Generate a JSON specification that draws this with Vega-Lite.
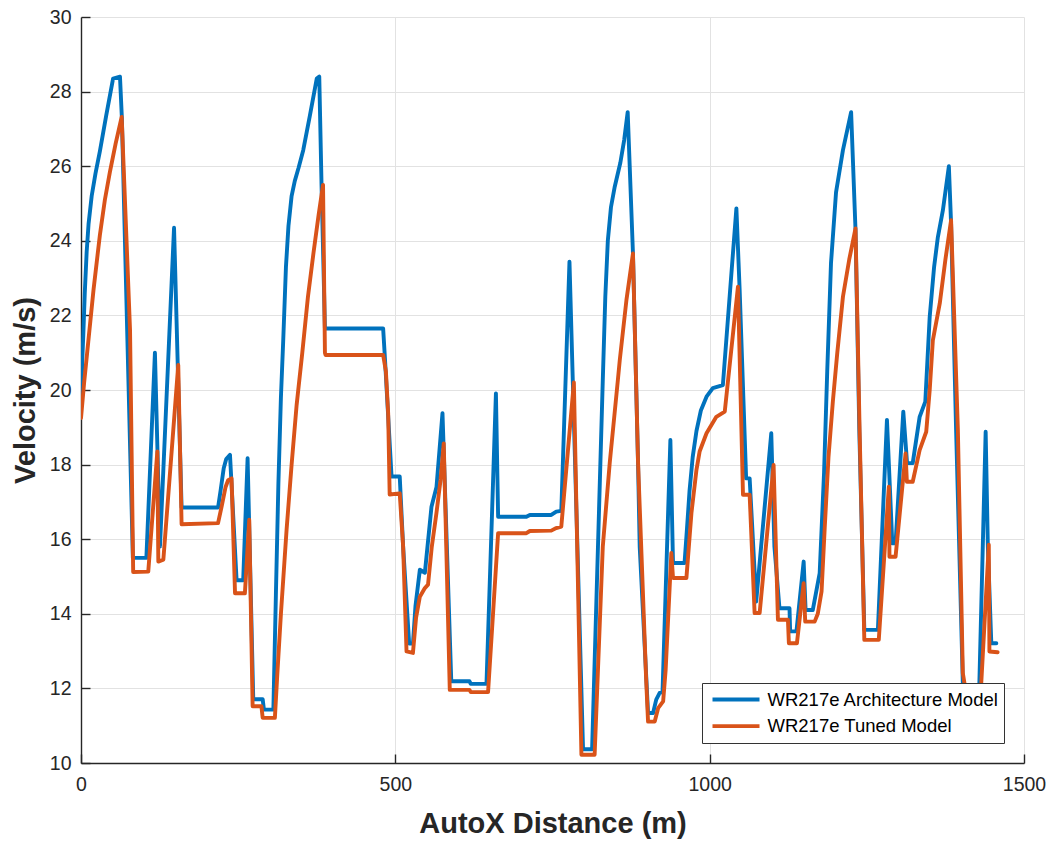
{
  "$schema": "https://vega.github.io/schema/vega-lite/v6.json",
  "width": 943,
  "height": 746,
  "autosize": {"type": "none"},
  "padding": {"left": 81, "top": 17, "right": 26, "bottom": 79},
  "background": "white",
  "config": {
    "view": {"stroke": null},
    "font": "Liberation Sans",
    "axis": {
      "labelFont": "Liberation Sans",
      "labelFontSize": 19.5,
      "labelColor": "#262626",
      "labelFlush": false,
      "titleFont": "Liberation Sans",
      "titleFontSize": 29,
      "titleFontWeight": "bold",
      "titleColor": "#262626",
      "domainColor": "#262626",
      "domainWidth": 1.4,
      "tickColor": "#262626",
      "tickWidth": 1.4,
      "tickSize": -9,
      "grid": true,
      "gridColor": "#e2e2e2",
      "gridWidth": 1
    },
    "legend": {
      "labelFont": "Liberation Sans",
      "labelFontSize": 18.5,
      "labelColor": "#000000",
      "labelLimit": 400
    }
  },
  "datasets": {
    "arch": [
      {"d":0,"v":19.5},{"d":2,"v":20.8},{"d":3.7,"v":21.5},{"d":6,"v":22.6},{"d":9,"v":23.7},{"d":12,"v":24.45},{"d":17,"v":25.2},{"d":23,"v":25.8},{"d":30,"v":26.4},{"d":40,"v":27.35},{"d":51,"v":28.35},{"d":62,"v":28.4},{"d":65,"v":27.3},{"d":82.5,"v":15.5},{"d":104,"v":15.5},{"d":117.6,"v":21.0},{"d":125.6,"v":15.8},{"d":148,"v":24.35},{"d":160,"v":16.85},{"d":218,"v":16.85},{"d":222,"v":17.3},{"d":227,"v":17.9},{"d":231,"v":18.15},{"d":237,"v":18.26},{"d":247.5,"v":14.9},{"d":258,"v":14.9},{"d":265,"v":18.17},{"d":274,"v":11.71},{"d":289,"v":11.71},{"d":291,"v":11.43},{"d":306,"v":11.43},{"d":310,"v":14.5},{"d":314,"v":17.5},{"d":318,"v":19.8},{"d":321.6,"v":21.3},{"d":326,"v":23.3},{"d":330,"v":24.4},{"d":335,"v":25.2},{"d":340,"v":25.6},{"d":346,"v":25.95},{"d":353.5,"v":26.43},{"d":364,"v":27.35},{"d":375,"v":28.35},{"d":379,"v":28.4},{"d":382.6,"v":25.5},{"d":388,"v":21.65},{"d":480.6,"v":21.65},{"d":483,"v":20.98},{"d":494,"v":17.68},{"d":507,"v":17.68},{"d":512.4,"v":15.8},{"d":522,"v":13.2},{"d":528,"v":13.2},{"d":532,"v":14.2},{"d":539,"v":15.18},{"d":547,"v":15.1},{"d":557.5,"v":16.87},{"d":565.5,"v":17.4},{"d":575,"v":19.38},{"d":589,"v":12.19},{"d":618,"v":12.19},{"d":620,"v":12.12},{"d":645,"v":12.12},{"d":660,"v":19.91},{"d":663.5,"v":16.6},{"d":708.5,"v":16.6},{"d":714,"v":16.65},{"d":748,"v":16.65},{"d":756,"v":16.74},{"d":764,"v":16.76},{"d":777,"v":23.44},{"d":798.6,"v":10.37},{"d":813,"v":10.37},{"d":830,"v":20.27},{"d":834,"v":22.5},{"d":838,"v":24.0},{"d":843,"v":24.9},{"d":849,"v":25.45},{"d":858,"v":26.1},{"d":864,"v":26.7},{"d":869.6,"v":27.45},{"d":878,"v":23.66},{"d":886,"v":18.1},{"d":888.7,"v":15.8},{"d":902,"v":11.34},{"d":910,"v":11.34},{"d":915,"v":11.7},{"d":920.5,"v":11.88},{"d":925,"v":11.9},{"d":937.5,"v":18.66},{"d":941.7,"v":15.36},{"d":960,"v":15.36},{"d":964,"v":16.3},{"d":968,"v":17.3},{"d":973,"v":18.2},{"d":979,"v":18.9},{"d":986,"v":19.45},{"d":995,"v":19.82},{"d":1005,"v":20.05},{"d":1021,"v":20.13},{"d":1042.5,"v":24.87},{"d":1047.7,"v":22.68},{"d":1058,"v":17.63},{"d":1063.6,"v":17.63},{"d":1074,"v":14.33},{"d":1098,"v":18.84},{"d":1103,"v":15.8},{"d":1111,"v":14.15},{"d":1127,"v":14.15},{"d":1128,"v":13.53},{"d":1138,"v":13.53},{"d":1149.5,"v":15.4},{"d":1152.6,"v":14.1},{"d":1164,"v":14.1},{"d":1175,"v":15.09},{"d":1182,"v":17.8},{"d":1187,"v":20.5},{"d":1193,"v":23.4},{"d":1201,"v":25.3},{"d":1212,"v":26.43},{"d":1225,"v":27.45},{"d":1232,"v":24.29},{"d":1238,"v":18.93},{"d":1246,"v":13.57},{"d":1267.6,"v":13.57},{"d":1282,"v":19.2},{"d":1290.5,"v":15.89},{"d":1295.7,"v":15.89},{"d":1308,"v":19.42},{"d":1314,"v":18.04},{"d":1323,"v":18.04},{"d":1334,"v":19.28},{"d":1343,"v":19.69},{"d":1350,"v":21.96},{"d":1357,"v":23.3},{"d":1363,"v":24.1},{"d":1371,"v":24.82},{"d":1380.5,"v":26.0},{"d":1384,"v":24.46},{"d":1392,"v":18.93},{"d":1402.7,"v":12.14},{"d":1416,"v":10.9},{"d":1429,"v":12.14},{"d":1439,"v":18.88},{"d":1442.5,"v":15.8},{"d":1448,"v":13.21},{"d":1456,"v":13.21}
    ],
    "tuned": [
      {"d":0,"v":19.25},{"d":5,"v":20.2},{"d":11.6,"v":21.3},{"d":20,"v":22.7},{"d":30,"v":24.15},{"d":38,"v":25.1},{"d":46,"v":25.85},{"d":55,"v":26.6},{"d":64.7,"v":27.32},{"d":78,"v":21.6},{"d":83,"v":15.12},{"d":107,"v":15.13},{"d":121.4,"v":18.35},{"d":123,"v":15.4},{"d":131,"v":15.45},{"d":154.7,"v":20.67},{"d":160,"v":16.4},{"d":218,"v":16.43},{"d":224,"v":16.9},{"d":230,"v":17.4},{"d":234,"v":17.58},{"d":239.5,"v":17.63},{"d":245,"v":14.55},{"d":260.7,"v":14.55},{"d":267.6,"v":16.52},{"d":273,"v":11.52},{"d":287,"v":11.52},{"d":289,"v":11.21},{"d":308.4,"v":11.21},{"d":312,"v":12.3},{"d":318,"v":14.0},{"d":327,"v":16.25},{"d":335,"v":18.0},{"d":343,"v":19.6},{"d":352,"v":21.0},{"d":361,"v":22.5},{"d":370,"v":23.7},{"d":378,"v":24.7},{"d":385,"v":25.5},{"d":388,"v":21.0},{"d":389,"v":20.94},{"d":480.6,"v":20.94},{"d":485,"v":20.5},{"d":488.6,"v":19.37},{"d":491,"v":17.2},{"d":507,"v":17.23},{"d":512.4,"v":15.8},{"d":517.8,"v":12.99},{"d":528,"v":12.95},{"d":533,"v":13.9},{"d":539,"v":14.46},{"d":547,"v":14.69},{"d":552,"v":14.78},{"d":558,"v":15.8},{"d":565.4,"v":16.7},{"d":572,"v":17.6},{"d":577,"v":18.57},{"d":586.6,"v":11.96},{"d":618,"v":11.96},{"d":620,"v":11.9},{"d":647.5,"v":11.9},{"d":663.5,"v":16.16},{"d":708.5,"v":16.16},{"d":714,"v":16.22},{"d":748,"v":16.23},{"d":756,"v":16.3},{"d":764,"v":16.34},{"d":784,"v":20.2},{"d":796,"v":10.22},{"d":817,"v":10.22},{"d":830,"v":15.8},{"d":841,"v":18.04},{"d":854,"v":20.27},{"d":857,"v":20.8},{"d":867.6,"v":22.41},{"d":878,"v":23.66},{"d":886,"v":18.1},{"d":899,"v":12.23},{"d":902,"v":11.11},{"d":912.6,"v":11.11},{"d":918,"v":11.47},{"d":926,"v":11.65},{"d":930,"v":12.5},{"d":939,"v":15.63},{"d":941.7,"v":14.96},{"d":963,"v":14.96},{"d":971,"v":16.7},{"d":979,"v":17.86},{"d":984,"v":18.35},{"d":995,"v":18.84},{"d":1010.6,"v":19.28},{"d":1024,"v":19.42},{"d":1045,"v":22.77},{"d":1053,"v":17.19},{"d":1063.6,"v":17.19},{"d":1071.5,"v":14.02},{"d":1079.5,"v":14.02},{"d":1101.7,"v":17.99},{"d":1108.6,"v":13.84},{"d":1124.5,"v":13.84},{"d":1126,"v":13.21},{"d":1138.8,"v":13.21},{"d":1149.5,"v":14.82},{"d":1152,"v":13.79},{"d":1167,"v":13.79},{"d":1172,"v":14.0},{"d":1178,"v":14.6},{"d":1183,"v":16.3},{"d":1189,"v":18.2},{"d":1196,"v":19.7},{"d":1203,"v":21.0},{"d":1212,"v":22.5},{"d":1222,"v":23.5},{"d":1232,"v":24.33},{"d":1238.5,"v":18.93},{"d":1246,"v":13.3},{"d":1269,"v":13.3},{"d":1285,"v":17.41},{"d":1286,"v":15.53},{"d":1295.7,"v":15.53},{"d":1311.6,"v":18.3},{"d":1313.7,"v":17.54},{"d":1323,"v":17.54},{"d":1334,"v":18.39},{"d":1344.5,"v":18.88},{"d":1350,"v":20.0},{"d":1355,"v":21.33},{"d":1366,"v":22.32},{"d":1375,"v":23.5},{"d":1384,"v":24.55},{"d":1394.8,"v":18.93},{"d":1402.7,"v":12.41},{"d":1418,"v":10.8},{"d":1432,"v":12.14},{"d":1444,"v":15.85},{"d":1445,"v":12.99},{"d":1458,"v":12.97}
    ]
  },
  "encoding": {
    "x": {
      "field": "d", "type": "quantitative",
      "scale": {"domain": [0, 1500], "nice": false, "zero": false},
      "axis": {"values": [0, 500, 1000, 1500], "format": "d", "title": "AutoX Distance (m)", "labelPadding": 21, "titleBaseline": "alphabetic", "titleY": 69}
    },
    "y": {
      "field": "v", "type": "quantitative",
      "scale": {"domain": [10, 30], "nice": false, "zero": false},
      "axis": {"values": [10, 12, 14, 16, 18, 20, 22, 24, 26, 28, 30], "format": "d", "title": "Velocity (m/s)", "labelPadding": 19, "titleBaseline": "alphabetic", "titleX": -47}
    }
  },
  "layer": [
    {
      "data": {"name": "arch"},
      "mark": {"type": "line", "strokeWidth": 3.9, "strokeJoin": "round", "strokeCap": "round", "clip": true},
      "encoding": {
        "color": {
          "datum": "WR217e Architecture Model",
          "type": "nominal",
          "scale": {"domain": ["WR217e Architecture Model", "WR217e Tuned Model"], "range": ["#0072BD", "#D95319"]},
          "legend": {
            "title": null,
            "orient": "bottom-right",
            "offset": 20,
            "symbolType": "stroke",
            "symbolSize": 2209,
            "symbolStrokeWidth": 3.9,
            "clipHeight": 24,
            "rowPadding": 2.6,
            "padding": 4.5,
            "symbolOffset": 4,
            "labelOffset": 6,
            "strokeColor": "#333333",
            "fillColor": "#ffffff"
          }
        }
      }
    },
    {
      "data": {"name": "tuned"},
      "mark": {"type": "line", "strokeWidth": 3.9, "strokeJoin": "round", "strokeCap": "round", "clip": true},
      "encoding": {
        "color": {"datum": "WR217e Tuned Model", "type": "nominal"}
      }
    }
  ]
}
